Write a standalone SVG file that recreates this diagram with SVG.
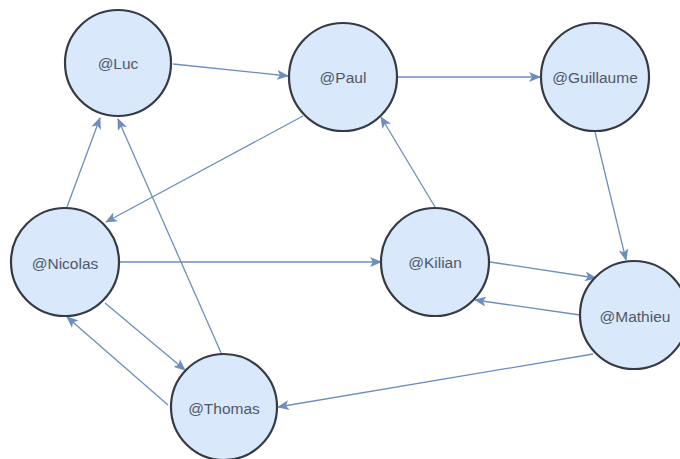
<svg xmlns="http://www.w3.org/2000/svg" width="680" height="459" viewBox="0 0 680 459">
<style>
.node circle{fill:#dae8fc;stroke:#343b45;stroke-width:2.2}
.node text{font-family:"Liberation Sans",Arial,sans-serif;font-size:15.5px;fill:#4f5868;text-anchor:middle;dominant-baseline:central}
.edges line{stroke:#6c8ebf;stroke-width:1.3;marker-end:url(#arr)}
</style>
<defs>
<marker id="arr" markerUnits="userSpaceOnUse" viewBox="0 0 12 10" refX="11" refY="5" markerWidth="12" markerHeight="10" orient="auto">
<path d="M0,0 L12,5 L0,10 L3,5 Z" fill="#6c8ebf"/>
</marker>
</defs>
<rect width="680" height="459" fill="#ffffff"/>
<g class="edges">
<line x1="173" y1="64" x2="288" y2="76"/>
<line x1="397" y1="77" x2="540" y2="77"/>
<line x1="303" y1="116" x2="106" y2="222"/>
<line x1="67" y1="207" x2="100" y2="118"/>
<line x1="222" y1="355" x2="118" y2="119"/>
<line x1="119" y1="262" x2="381" y2="262"/>
<line x1="435" y1="207" x2="381" y2="117"/>
<line x1="595" y1="132" x2="626" y2="260"/>
<line x1="490" y1="262" x2="596" y2="278"/>
<line x1="580" y1="315" x2="475" y2="300"/>
<line x1="593" y1="354" x2="278" y2="407"/>
<line x1="105" y1="303" x2="185" y2="370"/>
<line x1="168" y1="405" x2="67" y2="317"/>
</g>
<g id="luc" class="node"><circle cx="118" cy="63" r="53"/><text x="118" y="63">@Luc</text></g>
<g id="paul" class="node"><circle cx="343" cy="77" r="54"/><text x="343" y="77">@Paul</text></g>
<g id="guillaume" class="node"><circle cx="595" cy="77" r="54"/><text x="595" y="77">@Guillaume</text></g>
<g id="nicolas" class="node"><circle cx="65" cy="262" r="54"/><text x="65" y="263">@Nicolas</text></g>
<g id="kilian" class="node"><circle cx="435" cy="262" r="54"/><text x="435" y="262">@Kilian</text></g>
<g id="mathieu" class="node"><circle cx="634" cy="315" r="54"/><text x="635" y="316">@Mathieu</text></g>
<g id="thomas" class="node"><circle cx="224" cy="407" r="53"/><text x="224" y="408">@Thomas</text></g>
</svg>
